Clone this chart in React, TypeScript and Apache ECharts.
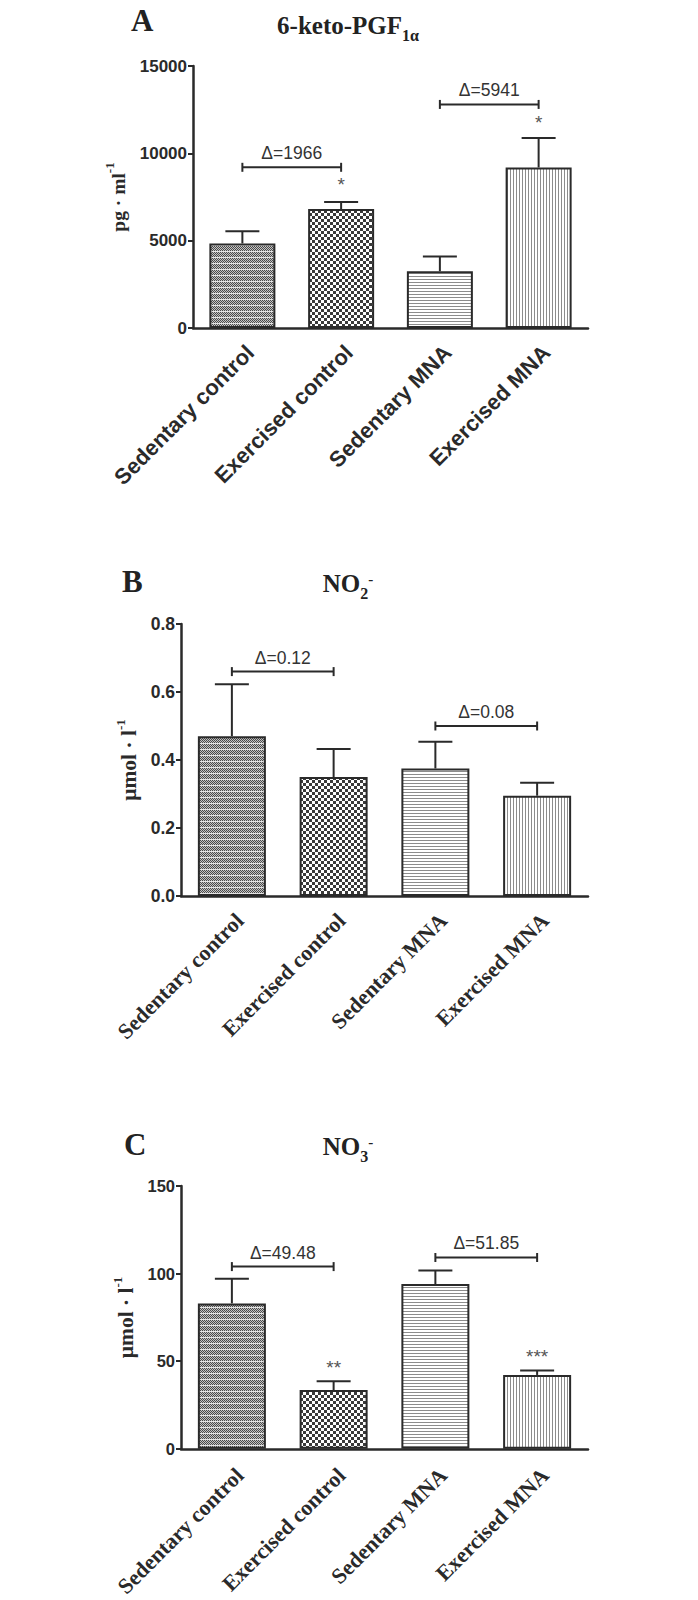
import React, { useEffect, useRef } from 'react';
import * as echarts from 'echarts';

const categories = ['Sedentary control', 'Exercised control', 'Sedentary MNA', 'Exercised MNA'];

// Panel A: 6-keto-PGF1α (pg·ml-1)
const ketoTicks = [0, 5000, 10000, 15000];
const ketoMeans = [4840, 6806, 3250, 9190];
const ketoErrors = [700, 410, 850, 1690];
const ketoBrackets = [[0, 1, 9200], [2, 3, 12800]];
const ketoBracketLabels = ['Δ=1966', 'Δ=5941'];
const ketoStars = [[1, 8200], [3, 11750]];
const ketoStarLabels = ['*', '*'];

// Panel B: NO2- (µmol·l-1)
const no2Ticks = [0, 0.2, 0.4, 0.6, 0.8];
const no2Means = [0.47, 0.35, 0.375, 0.295];
const no2Errors = [0.153, 0.082, 0.079, 0.038];
const no2Brackets = [[0, 1, 0.66], [2, 3, 0.5]];
const no2BracketLabels = ['Δ=0.12', 'Δ=0.08'];
const no2Stars: number[][] = [];
const no2StarLabels: string[] = [];

// Panel C: NO3- (µmol·l-1)
const no3Ticks = [0, 50, 100, 150];
const no3Means = [83.0, 33.52, 94.0, 42.15];
const no3Errors = [14.1, 5.1, 7.8, 2.55];
const no3Brackets = [[0, 1, 104], [2, 3, 109.2]];
const no3BracketLabels = ['Δ=49.48', 'Δ=51.85'];
const no3Stars = [[1, 46.5], [3, 52.7]];
const no3StarLabels = ['**', '***'];

const SANS = '"Liberation Sans", Arial, sans-serif';
const SERIF = '"Liberation Serif", "Times New Roman", serif';
const INK = '#2a2a2a';

function tile(w: number, h: number, draw: (ctx: CanvasRenderingContext2D) => void) {
  const c = document.createElement('canvas');
  c.width = w;
  c.height = h;
  const ctx = c.getContext('2d')!;
  ctx.fillStyle = '#ffffff';
  ctx.fillRect(0, 0, w, h);
  draw(ctx);
  return { image: c.toDataURL(), repeat: 'repeat', imageWidth: w, imageHeight: h } as any;
}

function makePatterns() {
  const p1 = tile(4, 6, (ctx) => {
    for (let y = 0; y < 6; y++) {
      for (let x = 0; x < 4; x++) {
        if (y === 5) ctx.fillStyle = '#e4e4e4';
        else ctx.fillStyle = (x + y) % 2 === 0 ? '#4a4a4a' : '#c4c4c4';
        ctx.fillRect(x, y, 1, 1);
      }
    }
  });
  const p2 = tile(6, 6, (ctx) => {
    ctx.fillStyle = '#3a3a3a';
    ctx.fillRect(0, 0, 3, 3);
    ctx.fillRect(3, 3, 3, 3);
  });
  const p3 = tile(4, 3, (ctx) => {
    ctx.fillStyle = '#8c8c8c';
    ctx.fillRect(0, 0, 4, 1);
  });
  const p4 = tile(3, 4, (ctx) => {
    ctx.fillStyle = '#8c8c8c';
    ctx.fillRect(0, 0, 1, 4);
  });
  return [p1, p2, p3, p4];
}

type Panel = {
  ticks: number[];
  means: number[];
  errors: number[];
  brackets: number[][];
  bracketLabels: string[];
  stars: number[][];
  starLabels: string[];
  grid: { left: number; top: number; width: number; height: number };
  barWidth: number;
  xFont: string;
  xFontSize: number;
  xMargin: number;
  tickFontSize: number;
  yName: string;
  nameGap: number;
  nameSize: number;
  decimals: number;
};

export default function App() {
  const ref = useRef<HTMLDivElement>(null);

  useEffect(() => {
    if (!ref.current) return;
    const chart = echarts.init(ref.current, undefined, { renderer: 'svg' });
    const patterns = makePatterns();

    const panels: Panel[] = [
      {
        ticks: ketoTicks, means: ketoMeans, errors: ketoErrors,
        brackets: ketoBrackets, bracketLabels: ketoBracketLabels,
        stars: ketoStars, starLabels: ketoStarLabels,
        grid: { left: 193, top: 66, width: 395, height: 262 },
        barWidth: 66, xFont: SANS, xFontSize: 22, xMargin: 13, tickFontSize: 17,
        yName: '{b|pg · ml}{s|-1}', nameGap: 57, nameSize: 19.5, decimals: 0,
      },
      {
        ticks: no2Ticks, means: no2Means, errors: no2Errors,
        brackets: no2Brackets, bracketLabels: no2BracketLabels,
        stars: no2Stars, starLabels: no2StarLabels,
        grid: { left: 181, top: 624, width: 407, height: 272 },
        barWidth: 68, xFont: SERIF, xFontSize: 22, xMargin: 13, tickFontSize: 17.5,
        yName: '{b|μmol · l}{s|-1}', nameGap: 38, nameSize: 21.5, decimals: 1,
      },
      {
        ticks: no3Ticks, means: no3Means, errors: no3Errors,
        brackets: no3Brackets, bracketLabels: no3BracketLabels,
        stars: no3Stars, starLabels: no3StarLabels,
        grid: { left: 181, top: 1186, width: 407, height: 271 },
        barWidth: 68, xFont: SERIF, xFontSize: 22, xMargin: 15, tickFontSize: 16.5,
        yName: '{b|μmol · l}{s|-1}', nameGap: 38, nameSize: 21.5, decimals: 0,
      },
    ];

    const grids: any[] = [];
    const xAxes: any[] = [];
    const yAxes: any[] = [];
    const series: any[] = [];

    panels.forEach((p, i) => {
      grids.push({ ...p.grid, containLabel: false });
      xAxes.push({
        type: 'category',
        gridIndex: i,
        data: categories,
        axisLine: { lineStyle: { color: INK, width: 2.5 } },
        axisTick: { alignWithLabel: true, length: 5, lineStyle: { color: INK, width: 2 } },
        axisLabel: {
          rotate: 45, interval: 0, margin: p.xMargin, verticalAlign: 'top', align: 'right',
          fontFamily: p.xFont, fontWeight: 'bold', fontSize: p.xFontSize, color: INK,
        },
      });
      const tmin = p.ticks[0];
      const tmax = p.ticks[p.ticks.length - 1];
      yAxes.push({
        type: 'value',
        gridIndex: i,
        min: tmin,
        max: tmax,
        interval: p.ticks[1] - p.ticks[0],
        axisLine: { show: true, lineStyle: { color: INK, width: 2.5 } },
        axisTick: { show: true, length: 5, lineStyle: { color: INK, width: 2 } },
        splitLine: { show: false },
        axisLabel: {
          margin: 6, fontFamily: SANS, fontWeight: 'bold', fontSize: p.tickFontSize, color: INK,
          formatter: (v: number) => v.toFixed(p.decimals),
        },
        name: p.yName,
        nameLocation: 'middle',
        nameRotate: 90,
        nameGap: p.nameGap,
        nameTextStyle: {
          rich: {
            b: { fontFamily: SERIF, fontWeight: 'bold', fontSize: p.nameSize, color: INK, lineHeight: 26, verticalAlign: 'bottom' },
            s: { fontFamily: SERIF, fontWeight: 'bold', fontSize: 13, color: INK, lineHeight: 14, verticalAlign: 'top' },
          },
        },
      });

      series.push({
        type: 'bar',
        xAxisIndex: i,
        yAxisIndex: i,
        barWidth: p.barWidth,
        data: p.means.map((v, k) => ({ value: v, itemStyle: { color: patterns[k] } })),
        itemStyle: { borderColor: INK, borderWidth: 2 },
        z: 2,
      });

      series.push({
        type: 'custom',
        xAxisIndex: i,
        yAxisIndex: i,
        encode: { x: 0, y: 1 },
        data: p.means.map((m, k) => [k, m, p.errors[k]]),
        z: 3,
        renderItem: (params: any, api: any) => {
          const x = api.value(0);
          const m = api.value(1);
          const e = api.value(2);
          const base = api.coord([x, m]);
          const top = api.coord([x, m + e]);
          const hw = 17;
          return {
            type: 'group',
            children: [
              { type: 'line', shape: { x1: base[0], y1: base[1], x2: top[0], y2: top[1] }, style: { stroke: INK, lineWidth: 2 } },
              { type: 'line', shape: { x1: top[0] - hw, y1: top[1], x2: top[0] + hw, y2: top[1] }, style: { stroke: INK, lineWidth: 2 } },
            ],
          };
        },
      });

      series.push({
        type: 'custom',
        xAxisIndex: i,
        yAxisIndex: i,
        encode: { x: [0, 1], y: 2 },
        data: p.brackets,
        z: 3,
        renderItem: (params: any, api: any) => {
          const a = api.coord([api.value(0), api.value(2)]);
          const b = api.coord([api.value(1), api.value(2)]);
          const cap = 4.5;
          const lbl = p.bracketLabels[params.dataIndex];
          return {
            type: 'group',
            children: [
              { type: 'line', shape: { x1: a[0], y1: a[1], x2: b[0], y2: b[1] }, style: { stroke: INK, lineWidth: 2 } },
              { type: 'line', shape: { x1: a[0], y1: a[1] - cap, x2: a[0], y2: a[1] + cap }, style: { stroke: INK, lineWidth: 2 } },
              { type: 'line', shape: { x1: b[0], y1: b[1] - cap, x2: b[0], y2: b[1] + cap }, style: { stroke: INK, lineWidth: 2 } },
              {
                type: 'text',
                x: (a[0] + b[0]) / 2,
                y: a[1] - 14,
                style: { text: lbl, align: 'center', verticalAlign: 'middle', fontFamily: SANS, fontSize: 17.5, fill: '#333' },
              },
            ],
          };
        },
      });

      if (p.stars.length) {
        series.push({
          type: 'custom',
          xAxisIndex: i,
          yAxisIndex: i,
          encode: { x: 0, y: 1 },
          data: p.stars,
          z: 3,
          renderItem: (params: any, api: any) => {
            const c = api.coord([api.value(0), api.value(1)]);
            return {
              type: 'text',
              x: c[0],
              y: c[1],
              style: {
                text: p.starLabels[params.dataIndex], align: 'center', verticalAlign: 'middle',
                fontFamily: SANS, fontSize: 19, fill: '#555',
              },
            };
          },
        });
      }
    });

    const letter = (txt: string, x: number, y: number) => ({
      type: 'text', x, y,
      style: { text: txt, fontFamily: SERIF, fontWeight: 'bold', fontSize: 31, fill: '#222', align: 'left', verticalAlign: 'middle' },
    });
    const titleRich = {
      m: { fontFamily: SERIF, fontWeight: 'bold', fontSize: 25, fill: '#222', lineHeight: 30, verticalAlign: 'top' },
      d: { fontFamily: SERIF, fontWeight: 'bold', fontSize: 16, fill: '#222', lineHeight: 15, verticalAlign: 'bottom' },
      u: { fontFamily: SERIF, fontWeight: 'bold', fontSize: 15, fill: '#222', lineHeight: 15, verticalAlign: 'top' },
    };
    const title = (txt: string, x: number, y: number) => ({
      type: 'text', x, y,
      style: { text: txt, rich: titleRich, align: 'center', verticalAlign: 'middle' },
    });

    chart.setOption({
      animation: false,
      backgroundColor: '#ffffff',
      grid: grids,
      xAxis: xAxes,
      yAxis: yAxes,
      series,
      graphic: [
        letter('A', 131, 20),
        title('{m|6-keto-PGF}{d|1α}', 348, 28),
        letter('B', 122, 581),
        title('{m|NO}{d|2}{u|-}', 348, 586),
        letter('C', 124, 1144),
        title('{m|NO}{d|3}{u|-}', 348, 1149),
      ],
    });

    return () => chart.dispose();
  }, []);

  return (
    <div
      ref={ref}
      style={{ position: 'absolute', left: 0, top: 0, width: 698, height: 1600, background: '#fff' }}
    />
  );
}
